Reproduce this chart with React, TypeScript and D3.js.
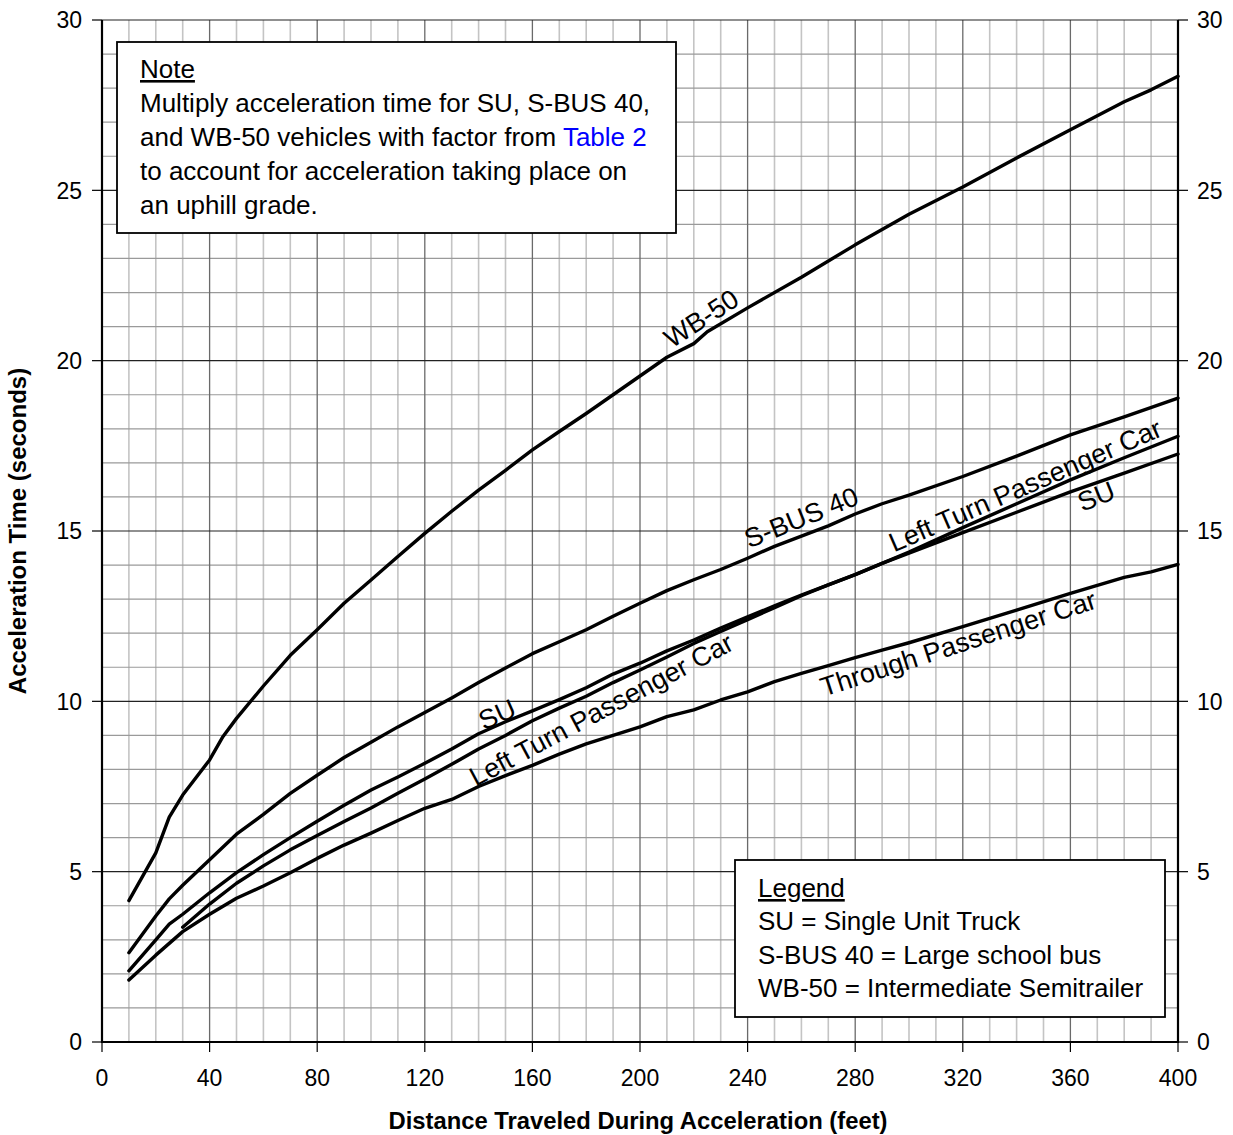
import React from 'react';
import * as d3 from 'd3';

const W = 1233;
const H = 1135;

const xTickValues = [0, 40, 80, 120, 160, 200, 240, 280, 320, 360, 400];
const yTickValues = [0, 5, 10, 15, 20, 25, 30];

const wb50Feet = [10, 20, 25, 30, 40, 45, 50, 60, 70, 80, 90, 100, 110, 120, 130, 140, 150, 160, 170, 180, 190, 200, 210, 220, 225, 240, 260, 280, 300, 320, 340, 360, 380, 390, 400];
const wb50Time = [4.15, 5.55, 6.6, 7.25, 8.28, 8.97, 9.5, 10.45, 11.35, 12.1, 12.88, 13.56, 14.25, 14.93, 15.58, 16.2, 16.78, 17.38, 17.92, 18.45, 19.0, 19.55, 20.1, 20.5, 20.85, 21.55, 22.45, 23.4, 24.3, 25.1, 25.95, 26.78, 27.6, 27.95, 28.35];

const sbusFeet = [10, 20, 25, 30, 40, 50, 60, 70, 80, 90, 100, 110, 120, 130, 140, 150, 160, 170, 180, 190, 200, 210, 220, 230, 240, 250, 260, 270, 280, 290, 300, 320, 340, 360, 380, 400];
const sbusTime = [2.62, 3.7, 4.2, 4.6, 5.35, 6.1, 6.68, 7.3, 7.83, 8.35, 8.8, 9.25, 9.67, 10.1, 10.55, 10.98, 11.4, 11.75, 12.1, 12.5, 12.88, 13.25, 13.57, 13.87, 14.2, 14.55, 14.85, 15.15, 15.5, 15.8, 16.05, 16.6, 17.2, 17.82, 18.35, 18.9];

const suFeet = [10, 20, 25, 30, 40, 50, 60, 70, 80, 90, 100, 110, 120, 130, 140, 150, 160, 170, 180, 190, 200, 210, 220, 230, 240, 250, 260, 270, 280, 290, 300, 320, 340, 360, 380, 400];
const suTime = [2.09, 3.0, 3.46, 3.75, 4.38, 4.97, 5.5, 6.0, 6.48, 6.95, 7.4, 7.78, 8.18, 8.6, 9.05, 9.4, 9.72, 10.05, 10.4, 10.8, 11.12, 11.48, 11.8, 12.15, 12.48, 12.8, 13.12, 13.42, 13.72, 14.05, 14.35, 14.95, 15.55, 16.15, 16.7, 17.26];

const leftTurnFeet = [30, 40, 50, 60, 70, 80, 90, 100, 110, 120, 130, 140, 150, 160, 170, 180, 190, 200, 210, 220, 230, 240, 250, 260, 270, 280, 290, 300, 320, 340, 360, 380, 400];
const leftTurnTime = [3.37, 4.05, 4.66, 5.17, 5.64, 6.06, 6.47, 6.87, 7.3, 7.72, 8.15, 8.6, 9.0, 9.43, 9.8, 10.15, 10.55, 10.92, 11.3, 11.7, 12.05, 12.4, 12.75, 13.1, 13.42, 13.72, 14.05, 14.38, 15.1, 15.8, 16.5, 17.15, 17.78];

const throughFeet = [10, 20, 30, 40, 50, 60, 70, 80, 90, 100, 110, 120, 130, 140, 150, 160, 170, 180, 190, 200, 210, 220, 230, 240, 250, 260, 270, 280, 290, 300, 320, 340, 360, 380, 390, 400];
const throughTime = [1.82, 2.55, 3.24, 3.75, 4.22, 4.58, 4.97, 5.39, 5.78, 6.13, 6.5, 6.86, 7.12, 7.5, 7.82, 8.12, 8.45, 8.75, 9.0, 9.25, 9.55, 9.75, 10.04, 10.28, 10.58, 10.82, 11.05, 11.28, 11.5, 11.72, 12.19, 12.68, 13.17, 13.64, 13.8, 14.02];

const seriesNames = ['WB-50', 'S-BUS 40', 'SU', 'Left Turn Passenger Car', 'Through Passenger Car'];

const curveLabelTexts = ['WB-50', 'S-BUS 40', 'SU', 'Left Turn Passenger Car', 'Left Turn Passenger Car', 'SU', 'Through Passenger Car'];
const curveLabelFeet = [222.7, 259.9, 146.8, 185.5, 343.1, 369.5, 318.2];
const curveLabelTime = [21.25, 15.41, 9.63, 9.77, 16.35, 16.03, 11.71];
const curveLabelAngle = [-33, -22, -24, -28, -23.5, -22, -18];

const noteTitle = 'Note';
const noteLines = [
  ['Multiply acceleration time for SU, S-BUS 40,'],
  ['and WB-50 vehicles with factor from ', 'Table 2'],
  ['to account for acceleration taking place on'],
  ['an uphill grade.'],
];
const legendTitle = 'Legend';
const legendLines = ['SU = Single Unit Truck', 'S-BUS 40 = Large school bus', 'WB-50 = Intermediate Semitrailer'];

const xTitle = 'Distance Traveled During Acceleration (feet)';
const yTitle = 'Acceleration Time (seconds)';

const FONT = '"Liberation Sans", Arial, Helvetica, sans-serif';

export default function App() {
  const x = d3.scaleLinear().domain([0, 400]).range([102, 1178]);
  const y = d3.scaleLinear().domain([0, 30]).range([1042, 20]);

  const series = [
    { name: seriesNames[0], feet: wb50Feet, time: wb50Time },
    { name: seriesNames[1], feet: sbusFeet, time: sbusTime },
    { name: seriesNames[2], feet: suFeet, time: suTime },
    { name: seriesNames[3], feet: leftTurnFeet, time: leftTurnTime },
    { name: seriesNames[4], feet: throughFeet, time: throughTime },
  ];

  const line = d3
    .line<[number, number]>()
    .x((d) => x(d[0]))
    .y((d) => y(d[1]))
    .curve(d3.curveLinear);

  const minorX = d3.range(10, 400, 10).filter((v) => v % 40 !== 0);
  const majorX = d3.range(40, 400, 40);
  const minorY = d3.range(1, 30, 1).filter((v) => v % 5 !== 0);
  const majorY = d3.range(5, 31, 5);

  const [x0, x1] = x.range();
  const [y0, y1] = y.range();

  return (
    <svg
      width={W}
      height={H}
      viewBox={`0 0 ${W} ${H}`}
      style={{ position: 'absolute', left: 0, top: 0, background: '#fff' }}
      fontFamily={FONT}
    >
      <rect x={0} y={0} width={W} height={H} fill="#fff" />
      {/* grid */}
      <g>
        {minorX.map((v) => (
          <line key={'mx' + v} x1={x(v)} x2={x(v)} y1={y1} y2={y0} stroke="#c4c4c4" strokeWidth={1.6} />
        ))}
        {minorY.map((v) => (
          <line key={'my' + v} x1={x0} x2={x1} y1={y(v)} y2={y(v)} stroke="#9a9a9a" strokeWidth={1.2} />
        ))}
        {majorX.map((v) => (
          <line key={'Mx' + v} x1={x(v)} x2={x(v)} y1={y1} y2={y0} stroke="#6a6a6a" strokeWidth={1.3} />
        ))}
        {majorY.map((v) => (
          <line key={'My' + v} x1={x0} x2={x1} y1={y(v)} y2={y(v)} stroke="#222" strokeWidth={1.2} />
        ))}
      </g>
      {/* axes */}
      <line x1={x0} x2={x0} y1={y1} y2={y0 + 1} stroke="#000" strokeWidth={2.2} />
      <line x1={x1} x2={x1} y1={y1} y2={y0 + 1} stroke="#000" strokeWidth={2.2} />
      <line x1={x0} x2={x1} y1={y0} y2={y0} stroke="#000" strokeWidth={2.2} />
      {yTickValues.map((v) => (
        <g key={'yt' + v}>
          <line x1={x0 - 10} x2={x0} y1={y(v)} y2={y(v)} stroke="#000" strokeWidth={1.2} />
          <line x1={x1} x2={x1 + 10} y1={y(v)} y2={y(v)} stroke="#000" strokeWidth={1.2} />
          <text x={x0 - 20} y={y(v)} dy="0.36em" textAnchor="end" fontSize={23} fill="#000">
            {v}
          </text>
          <text x={x1 + 19} y={y(v)} dy="0.36em" textAnchor="start" fontSize={23} fill="#000">
            {v}
          </text>
        </g>
      ))}
      {xTickValues.map((v) => (
        <g key={'xt' + v}>
          <line x1={x(v)} x2={x(v)} y1={y0} y2={y0 + 10} stroke="#000" strokeWidth={1.2} />
          <text x={x(v)} y={1086} textAnchor="middle" fontSize={23} fill="#000">
            {v}
          </text>
        </g>
      ))}
      <text x={(x0 + x1) / 2 - 2} y={1129} textAnchor="middle" fontSize={23.8} fontWeight="bold">
        {xTitle}
      </text>
      <text
        transform={`translate(26, ${(y0 + y1) / 2}) rotate(-90)`}
        textAnchor="middle"
        fontSize={24}
        fontWeight="bold"
      >
        {yTitle}
      </text>

      {/* curves */}
      {series.map((s) => (
        <path
          key={s.name}
          d={line(s.feet.map((f, i) => [f, s.time[i]] as [number, number])) || ''}
          fill="none"
          stroke="#000"
          strokeWidth={3.4}
          strokeLinejoin="round"
          strokeLinecap="round"
        />
      ))}

      {/* curve labels */}
      {curveLabelTexts.map((t, i) => (
        <text
          key={'cl' + i}
          transform={`translate(${x(curveLabelFeet[i])}, ${y(curveLabelTime[i])}) rotate(${curveLabelAngle[i]})`}
          textAnchor="middle"
          dy="0.36em"
          fontSize={27}
          fill="#000"
        >
          {t}
        </text>
      ))}

      {/* note box */}
      <rect x={117} y={42} width={559} height={191} fill="#fff" stroke="#000" strokeWidth={1.8} />
      <text x={140} y={78} fontSize={26} textDecoration="underline">
        {noteTitle}
      </text>
      {noteLines.map((parts, i) => (
        <text key={'n' + i} x={140} y={112 + i * 34} fontSize={26} fill="#000">
          {parts.map((p, j) => (
            <tspan key={j} fill={j === 1 ? '#0000ff' : '#000'}>
              {p}
            </tspan>
          ))}
        </text>
      ))}

      {/* legend box */}
      <rect x={735} y={860} width={430} height={157} fill="#fff" stroke="#000" strokeWidth={1.8} />
      <text x={758} y={897} fontSize={26} textDecoration="underline">
        {legendTitle}
      </text>
      {legendLines.map((t, i) => (
        <text key={'l' + i} x={758} y={930 + i * 33.5} fontSize={26} fill="#000">
          {t}
        </text>
      ))}
    </svg>
  );
}
